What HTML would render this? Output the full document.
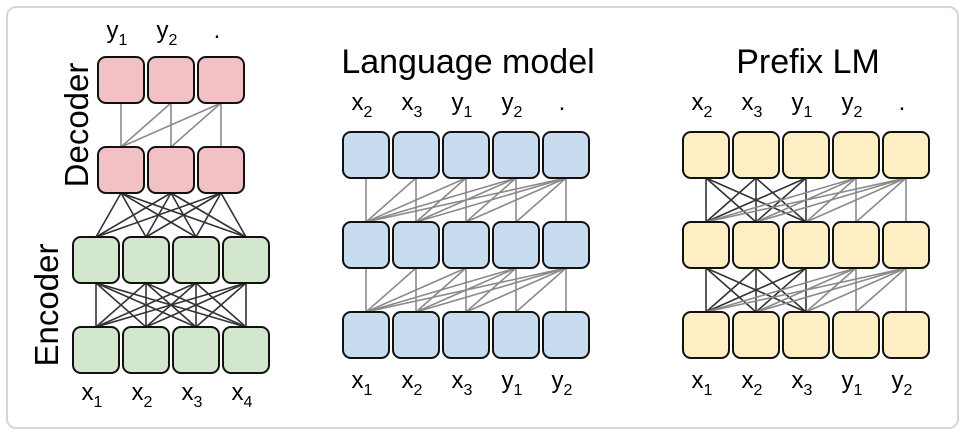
<!DOCTYPE html>
<html><head><meta charset="utf-8"><style>
html,body{margin:0;padding:0;background:#fff;}
svg{display:block;font-family:"Liberation Sans",Arial,sans-serif;}
</style></head><body>
<svg width="966" height="434" viewBox="0 0 966 434">
<rect x="7" y="7" width="951" height="421" rx="9" fill="#fff" stroke="#d6d6d6" stroke-width="2"/>
<g id="lines"></g>
<g id="boxes"></g>
<g id="labels"></g>
<text transform="translate(88,125) rotate(-90)" text-anchor="middle" font-size="33" fill="#000">Decoder</text>
<text transform="translate(58,305) rotate(-90)" text-anchor="middle" font-size="33" fill="#000">Encoder</text>
<text x="468" y="73" text-anchor="middle" font-size="34" fill="#000">Language model</text>
<text x="808" y="73" text-anchor="middle" font-size="34" fill="#000">Prefix LM</text>
</svg>
<script>
const NS="http://www.w3.org/2000/svg";
const gl=document.getElementById('lines'),gb=document.getElementById('boxes'),gt=document.getElementById('labels');
const W=46,H=46,P=50;
function box(x,y,fill){const r=document.createElementNS(NS,'rect');
r.setAttribute('x',x);r.setAttribute('y',y);r.setAttribute('width',W);r.setAttribute('height',H);r.setAttribute('rx',8);
r.setAttribute('fill',fill);r.setAttribute('stroke','#111');r.setAttribute('stroke-width',2);


gb.appendChild(r);}
function line(x1,y1,x2,y2,c){const l=document.createElementNS(NS,'line');
l.setAttribute('x1',x1);l.setAttribute('y1',y1);l.setAttribute('x2',x2);l.setAttribute('y2',y2);
l.setAttribute('stroke',c);l.setAttribute('stroke-width',1.6);


gl.appendChild(l);}
function label(cx,y,s){const t=document.createElementNS(NS,'text');
t.setAttribute('x',cx);t.setAttribute('y',y);t.setAttribute('text-anchor','middle');t.setAttribute('font-size',24);


if(s==='.'){t.textContent='.';}else{t.textContent=s[0];
const sp=document.createElementNS(NS,'tspan');sp.setAttribute('font-size',16);sp.setAttribute('dy',7);sp.textContent=s[1];t.appendChild(sp);}
gt.appendChild(t);}
function connect(xo,n,yTopBottom,xi,m,yBotTop,fn){
 for(let j=0;j<n;j++)for(let i=0;i<m;i++){const c=fn(j,i);if(c)line(xo+j*P+W/2,yTopBottom,xi+i*P+W/2,yBotTop,c);}}
const DARK='#333',GRAY='#8a8a8a';
const dx=98,ex=73,r1=57,r2=147,r3=237,r4=327;
connect(dx,3,r1+H,dx,3,r2,(j,i)=>i<=j?GRAY:null);
connect(dx,3,r2+H,ex,4,r3,()=>DARK);
connect(ex,4,r3+H,ex,4,r4,()=>DARK);
for(let i=0;i<3;i++){box(dx+i*P,r1,'#f2c1c5');box(dx+i*P,r2,'#f2c1c5');}
for(let i=0;i<4;i++){box(ex+i*P,r3,'#d3e7cf');box(ex+i*P,r4,'#d3e7cf');}
['y1','y2','.'].forEach((s,i)=>label(dx+i*P+W/2-4,38,s));
['x1','x2','x3','x4'].forEach((s,i)=>label(ex+i*P+W/2-4,400,s));
const topLabels=['x2','x3','y1','y2','.'],botLabels=['x1','x2','x3','y1','y2'];
[[343,'#c8dcf0',(j,i)=>i<=j?GRAY:null],[683,'#fdeec4',(j,i)=>(j<3&&i<3)?DARK:(i<=j?GRAY:null)]].forEach(([x,fill,fn])=>{
 const a=132,b=222,c=312;
 connect(x,5,a+H,x,5,b,fn);connect(x,5,b+H,x,5,c,fn);
 for(let i=0;i<5;i++){box(x+i*P,a,fill);box(x+i*P,b,fill);box(x+i*P,c,fill);}
 topLabels.forEach((s,i)=>label(x+i*P+W/2-4,110,s));
 botLabels.forEach((s,i)=>label(x+i*P+W/2-4,388,s));
});
</script>
</body></html>
